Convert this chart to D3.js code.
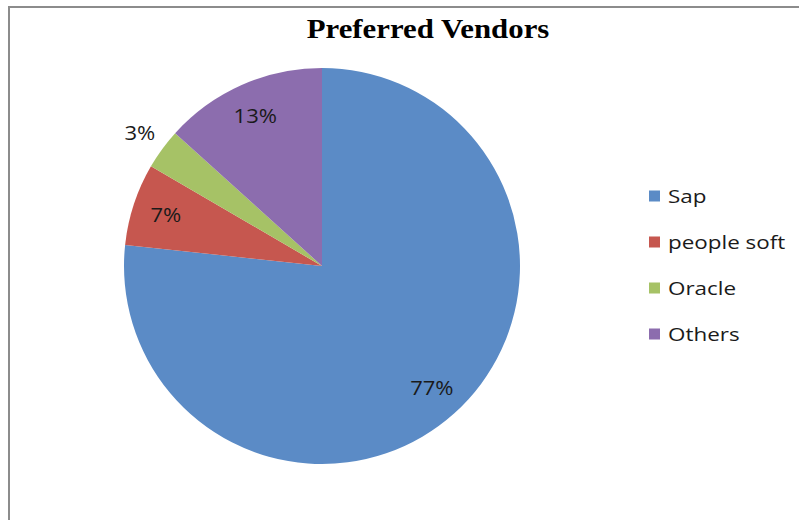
<!DOCTYPE html>
<html>
<head>
<meta charset="utf-8">
<script src="https://cdn.jsdelivr.net/npm/d3@7"></script>
<style>
  body { margin: 0; background: #fff; }
  svg { display: block; }
</style>
</head>
<body>
<svg id="chart" width="799" height="520"></svg>
<script>
const vendors = ["Sap", "people soft", "Oracle", "Others"];
const shares = [76.7, 6.7, 3.3, 13.3];
const pctLabels = ["77%", "7%", "3%", "13%"];
const colors = ["#5B8BC6", "#C6574F", "#A6C266", "#8C6DAE"];

const svg = d3.select("#chart");
const bodyFont = "'Open Sans', Carlito, sans-serif";

// chart frame (runs off the right / bottom of the window)
svg.append("rect")
    .attr("x", 9).attr("y", 7)
    .attr("width", 820).attr("height", 540)
    .attr("fill", "#fff")
    .attr("stroke", "#8c8c8c")
    .attr("stroke-width", 2);

svg.append("text")
    .attr("transform", "translate(428,38) scale(1.1,1)")
    .attr("text-anchor", "middle")
    .style("font-family", "'Liberation Serif', 'Times New Roman', serif")
    .style("font-weight", "bold")
    .style("font-size", "28px")
    .text("Preferred Vendors");

const cx = 322, cy = 266, radius = 198;

const pie = d3.pie().sort(null).value(d => d)(shares);
const arc = d3.arc().innerRadius(0).outerRadius(radius);

const g = svg.append("g").attr("transform", `translate(${cx},${cy})`);

g.selectAll("path")
    .data(pie)
    .enter()
    .append("path")
    .attr("d", arc)
    .attr("fill", (d, i) => colors[i]);

// label positions: inside for the big slices, outside for the tiny one
const labelArc = d3.arc().innerRadius(radius * 0.83).outerRadius(radius * 0.83);
const outsideArc = d3.arc().innerRadius(radius * 1.14).outerRadius(radius * 1.14);

g.selectAll(".pct")
    .data(pie)
    .enter()
    .append("text")
    .attr("class", "pct")
    .attr("transform", (d, i) => `translate(${(i == 2 ? outsideArc : labelArc).centroid(d)}) scale(1.13,1)`)
    .attr("text-anchor", "middle")
    .attr("dy", "0.36em")
    .style("font-family", bodyFont)
    .style("font-size", "19.5px")
    .attr("fill", "#1a1a1a")
    .text((d, i) => pctLabels[i]);

// legend
const y = d3.scalePoint().domain(vendors).range([196, 334]);
const legend = svg.append("g");

legend.selectAll("rect")
    .data(vendors)
    .enter()
    .append("rect")
    .attr("x", 649)
    .attr("y", d => y(d) - 5.5)
    .attr("width", 11).attr("height", 11)
    .attr("fill", (d, i) => colors[i]);

legend.selectAll("text")
    .data(vendors)
    .enter()
    .append("text")
    .attr("transform", d => `translate(668,${y(d)}) scale(1.18,1)`)
    .attr("dy", "0.36em")
    .style("font-family", bodyFont)
    .style("font-size", "19px")
    .attr("fill", "#1a1a1a")
    .text(d => d);
</script>
</body>
</html>
